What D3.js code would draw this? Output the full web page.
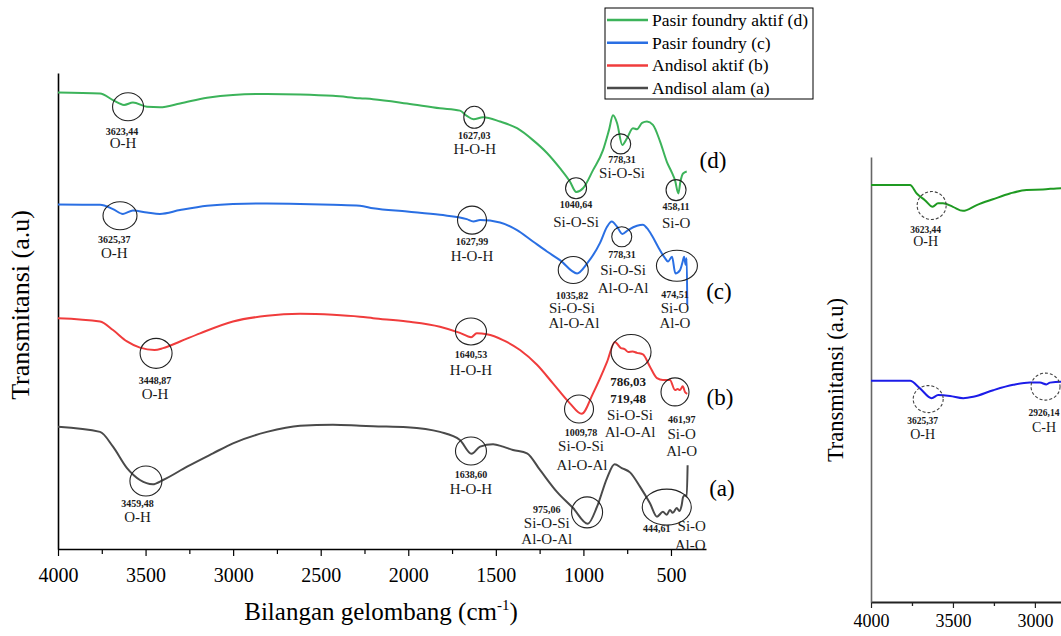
<!DOCTYPE html>
<html><head><meta charset="utf-8">
<script src="https://cdn.jsdelivr.net/npm/d3@7"></script>
<style>
body{margin:0;background:#fff;}
svg{display:block;font-family:"Liberation Serif","Times New Roman",serif;}
</style>
</head><body>
<svg id="c" width="1061" height="636"></svg>
<script>
// ---------------- DATA ----------------
const seriesNames = ["Pasir foundry aktif (d)", "Pasir foundry (c)", "Andisol aktif (b)", "Andisol alam (a)"];
const seriesTags = ["(d)", "(c)", "(b)", "(a)"];
const xTicks = [4000, 3500, 3000, 2500, 2000, 1500, 1000, 500];
const xMinorTicks = [3750, 3250, 2750, 2250, 1750, 1250, 750];
const xLabel = "Bilangan gelombang (cm";
const yLabel = "Transmitansi (a.u)";

// wavenumber (cm-1), transmittance (a.u.)
const spectrumD = [[4000,95.9],[3760,95.7],[3686,94.3],[3623,93.3],[3572,93.8],[3492,92.9],[3418,92.8],[3303,93.6],[3149,94.8],[3001,95.4],[2807,95.6],[2618,95.5],[2430,95.2],[2276,94.7],[2201,94.5],[2007,93.6],[1819,92.6],[1705,92.1],[1666,91.0],[1627,90.3],[1573,90.7],[1476,89.8],[1379,88.4],[1288,85.9],[1208,83.2],[1134,80.0],[1077,77.2],[1041,75.0],[1002,75.8],[945,79.6],[888,83.8],[854,88.0],[831,91.1],[808,89.5],[778,84.9],[751,86.3],[717,88.4],[694,88.2],[665,89.5],[637,89.8],[603,89.1],[563,85.7],[523,81.3],[494,79.0],[477,77.5],[458,74.7],[446,77.2],[431,78.9],[410,79.3]];
const spectrumC = [[4000,72.4],[3760,72.3],[3686,71.4],[3629,70.4],[3572,71.1],[3492,70.7],[3418,70.4],[3303,71.2],[3149,72.1],[3001,72.5],[2807,72.6],[2618,72.5],[2430,72.3],[2276,72.1],[2201,71.6],[2007,70.9],[1819,70.2],[1666,69.3],[1628,68.8],[1590,69.1],[1476,68.6],[1379,67.0],[1288,64.6],[1208,62.5],[1134,60.7],[1036,57.9],[979,60.0],[905,64.3],[865,67.7],[838,68.8],[808,67.7],[778,66.2],[745,67.0],[694,67.9],[660,68.1],[637,67.4],[608,65.8],[574,63.5],[534,61.1],[517,60.4],[494,61.4],[475,57.9],[448,58.6],[433,60.4],[425,61.4],[416,59.7],[410,61.1],[407,51.3]];
const spectrumB = [[4000,48.5],[3760,47.8],[3686,46.0],[3606,43.6],[3532,42.3],[3449,41.8],[3400,42.2],[3303,43.6],[3189,45.3],[3001,47.8],[2807,49.0],[2618,49.4],[2430,49.2],[2276,48.8],[2201,48.5],[2007,47.8],[1819,46.7],[1705,45.4],[1641,44.5],[1609,45.3],[1552,45.1],[1459,43.9],[1362,41.8],[1265,38.7],[1174,34.8],[1077,30.6],[1010,28.4],[945,32.7],[865,39.3],[820,43.5],[786,42.2],[765,42.0],[745,41.4],[719,41.5],[694,41.2],[660,40.9],[620,38.3],[580,35.9],[546,35.5],[506,35.5],[477,33.4],[462,33.6],[448,33.4],[433,34.2],[420,33.0],[407,32.6]];
const spectrumA = [[4000,25.7],[3760,24.6],[3686,21.5],[3606,17.0],[3532,14.5],[3459,13.6],[3400,14.5],[3263,17.3],[3115,20.1],[3001,22.2],[2807,24.6],[2618,25.9],[2430,26.1],[2276,25.9],[2201,25.8],[2007,25.6],[1819,24.6],[1705,22.9],[1639,20.0],[1590,21.5],[1516,22.0],[1459,21.5],[1402,20.8],[1322,20.1],[1248,16.6],[1151,12.0],[1059,8.6],[975,5.3],[922,8.9],[865,14.9],[822,17.8],[781,17.0],[734,16.1],[677,13.1],[620,9.6],[580,6.8],[546,7.8],[524,7.2],[506,8.2],[490,7.6],[467,8.6],[452,8.0],[439,9.2],[431,10.9],[420,11.3],[410,11.0],[405,17.6]];

// peak annotations: ring centre (wavenumber, value), peak numbers, groups
const peaksD = [
  {nums:["3623,44"], groups:["O-H"], wn:3600, val:92.9},
  {nums:["1627,03"], groups:["H-O-H"], wn:1623, val:90.7},
  {nums:["1040,64"], groups:["Si-O-Si"], wn:1042, val:75.8},
  {nums:["778,31"], groups:["Si-O-Si"], wn:787, val:85.1},
  {nums:["458,11"], groups:["Si-O"], wn:471, val:75.4}];
const peaksC = [
  {nums:["3625,37"], groups:["O-H"], wn:3646, val:70.0},
  {nums:["1627,99"], groups:["H-O-H"], wn:1636, val:69.1},
  {nums:["1035,82"], groups:["Si-O-Si","Al-O-Al"], wn:1058, val:58.6},
  {nums:["778,31"], groups:["Si-O-Si","Al-O-Al"], wn:781, val:65.6},
  {nums:["474,51"], groups:["Si-O","Al-O"], wn:466, val:59.5}];
const peaksB = [
  {nums:["3448,87"], groups:["O-H"], wn:3440, val:41.1},
  {nums:["1640,53"], groups:["H-O-H"], wn:1642, val:45.7},
  {nums:["1009,78"], groups:["Si-O-Si","Al-O-Al"], wn:1025, val:29.4},
  {nums:["786,03","719,48"], groups:["Si-O-Si","Al-O-Al"], wn:728, val:41.4, big:true},
  {nums:["461,97"], groups:["Si-O","Al-O"], wn:477, val:33.0}];
const peaksA = [
  {nums:["3459,48"], groups:["O-H"], wn:3498, val:14.3},
  {nums:["1638,60"], groups:["H-O-H"], wn:1642, val:20.6},
  {nums:["975,06"], groups:["Si-O-Si","Al-O-Al"], wn:979, val:7.7},
  {nums:["444,61"], groups:["Si-O","Al-O"], wn:524, val:8.8}];
// series tag positions (wavenumber, value)
const tagPos = [[260,81.7],[226,54.0],[220,31.9],[209,12.8]];

// second (partial) panel
const xTicks2 = [4000, 3500, 3000];
const xMinorTicks2 = [3750, 3250];
const spectrum2D = [[4000,93.7],[3762,93.7],[3721,91.8],[3671,90.3],[3624,88.8],[3591,89.6],[3561,89.6],[3500,88.8],[3439,87.9],[3355,89.2],[3256,90.5],[3152,91.8],[3051,92.6],[2951,92.7],[2841,93.0],[2726,93.0]];
const spectrum2C = [[4000,49.7],[3762,49.7],[3701,48.0],[3630,45.8],[3590,46.5],[3518,46.3],[3437,45.8],[3376,46.1],[3254,47.6],[3132,48.8],[3030,49.3],[2969,49.3],[2930,48.9],[2908,49.3],[2841,49.5],[2726,49.5]];
const peaks2D = [{nums:["3623,44"], groups:["O-H"], wn:3630, val:89.1}];
const peaks2C = [
  {nums:["3625,37"], groups:["O-H"], wn:3651, val:45.6},
  {nums:["2926,14"], groups:["C-H"], wn:2935, val:48.4}];

// ---------------- LAYOUT / STYLE ----------------
const colors = ["#3cb35a", "#2a6fe3", "#f03c3c", "#4a4a4a"];
const colors2 = ["#1f9a22", "#1c1ce8"];
// ring radii and text offsets (px) for each annotation, same order as peaks
const layoutD = [
  {rx:15.5, ry:14, off:[[-6,25],[-5,36.6]]},
  {rx:10.5, ry:11, off:[[0,18.7],[0.5,32]]},
  {rx:10.5, ry:10.5, off:[[0,16.7],[0,34]]},
  {rx:10, ry:10, off:[[1.3,15.3],[1.3,28.7]]},
  {rx:10, ry:10.5, off:[[0,16],[0,32.7]]}];
const layoutC = [
  {rx:17, ry:14, off:[[-5.7,24],[-5.7,37.3]]},
  {rx:14.5, ry:14, off:[[0,21.7],[0,36]]},
  {rx:15, ry:13.5, off:[[-1.3,25],[-1.3,37.5],[0.7,53]]},
  {rx:10, ry:10, off:[[0.3,17.3],[1.3,33.3],[1.3,51.6]]},
  {rx:20.5, ry:15.5, off:[[-2,29],[-2,42.3],[-2,57.3]]}];
const layoutB = [
  {rx:16, ry:15, off:[[-1,26.7],[-1,41]]},
  {rx:15.5, ry:13.5, off:[[0,23.3],[0,38.3]]},
  {rx:14.5, ry:14, off:[[2,23],[2,37],[3,56]]},
  {rx:20, ry:17.5, off:[[-3,29.7],[-3,46.3],[-1,63],[-1,79.7]]},
  {rx:14, ry:14, off:[[6.7,27.3],[6.7,42],[6.7,58.7]]}];
const layoutA = [
  {rx:16, ry:15, off:[[-8.3,22.3],[-8.3,36.3]]},
  {rx:15.5, ry:14, off:[[0,23.3],[0,38.3]]},
  {rx:15.5, ry:15.5, off:[[-40.3,-3.2],[-40.3,10.2],[-40.3,26.8]]},
  {rx:24.5, ry:18, off:[[-10,21.3],[25,19],[23.3,38]]}];
const layout2D = [{rx:14.5, ry:14, off:[[-6,24.3],[-6,36]]}];
const layout2C = [
  {rx:15, ry:13.5, off:[[-5.6,22.4],[-5.6,35.7]]},
  {rx:14.5, ry:13.5, off:[[-1.5,26],[-1.5,40.6]]}];

const FONT = '"Liberation Serif","Times New Roman",serif';
const svg = d3.select("#c");

// ---------------- MAIN PANEL ----------------
const x = d3.scaleLinear().domain([4000, 300]).range([58, 706]);
const y = d3.scaleLinear().domain([0, 100]).range([549, 73]);

function styleAxis(g, color, width) {
  g.attr("font-family", FONT);
  g.select(".domain").attr("stroke", color).attr("stroke-width", width);
  g.selectAll(".tick line").attr("stroke", color).attr("stroke-width", 1.2);
}

const gxMinor = svg.append("g").attr("transform", "translate(0,549)")
  .call(d3.axisBottom(x).tickValues(xMinorTicks).tickSize(5).tickFormat(""));
gxMinor.select(".domain").remove();
gxMinor.selectAll(".tick line").attr("stroke", "#000").attr("stroke-width", 1.2);

const gx = svg.append("g").attr("transform", "translate(0,549)")
  .call(d3.axisBottom(x).tickValues(xTicks).tickSize(7).tickSizeOuter(0).tickFormat(d3.format("d")));
styleAxis(gx, "#000", 1.6);
gx.selectAll(".tick text").attr("font-size", 20).attr("fill", "#000").attr("y", 32.5).attr("dy", 0);

const gy = svg.append("g").attr("transform", "translate(58,0)")
  .call(d3.axisLeft(y).tickValues([]).tickSizeOuter(0));
styleAxis(gy, "#000", 1.6);

svg.append("text").attr("x", 381).attr("y", 620).attr("text-anchor", "middle")
  .attr("font-size", 25).attr("fill", "#000")
  .call(t => {
    t.append("tspan").text(xLabel);
    t.append("tspan").attr("font-size", 15).attr("dy", -10).text("-1");
    t.append("tspan").attr("dy", 10).text(")");
  });
svg.append("text").attr("transform", "translate(20,305) rotate(-90)")
  .attr("text-anchor", "middle").attr("dominant-baseline", "central")
  .attr("font-size", 26).attr("fill", "#000").text(yLabel);

const line = d3.line().curve(d3.curveMonotoneX).x(d => x(d[0])).y(d => y(d[1]));
const spectra = [spectrumD, spectrumC, spectrumB, spectrumA];
spectra.forEach((s, i) => {
  svg.append("path").datum(s).attr("d", line).attr("fill", "none")
    .attr("stroke", colors[i]).attr("stroke-width", 2).attr("stroke-linejoin", "round");
});

function drawPeaks(peaks, layout, xs, ys, opts) {
  peaks.forEach((p, i) => {
    const L = layout[i];
    const cx = xs(p.wn), cy = ys(p.val);
    svg.append("ellipse").attr("cx", cx).attr("cy", cy).attr("rx", L.rx).attr("ry", L.ry)
      .attr("fill", "none").attr("stroke", opts.ring).attr("stroke-width", 1.1)
      .attr("stroke-dasharray", opts.dash || null);
    const lines = p.nums.map(t => ({t, num: true})).concat(p.groups.map(t => ({t, num: false})));
    lines.forEach((ln, j) => {
      const o = L.off[j];
      svg.append("text").attr("x", cx + o[0]).attr("y", cy + o[1])
        .attr("text-anchor", "middle").attr("dominant-baseline", "central")
        .attr("font-size", ln.num ? (p.big ? 13 : opts.numSize) : opts.grpSize)
        .attr("font-weight", ln.num ? "bold" : "normal")
        .attr("fill", "#1a1a1a").text(ln.t);
    });
  });
}
const mainOpts = {ring: "#222", numSize: 10, grpSize: 15};
drawPeaks(peaksD, layoutD, x, y, mainOpts);
drawPeaks(peaksC, layoutC, x, y, mainOpts);
drawPeaks(peaksB, layoutB, x, y, mainOpts);
drawPeaks(peaksA, layoutA, x, y, mainOpts);

seriesTags.forEach((t, i) => {
  svg.append("text").attr("x", x(tagPos[i][0])).attr("y", y(tagPos[i][1]))
    .attr("text-anchor", "middle").attr("dominant-baseline", "central")
    .attr("font-size", 23).attr("fill", "#000").text(t);
});

// legend
const lg = svg.append("g");
lg.append("rect").attr("x", 605).attr("y", 8).attr("width", 208).attr("height", 91)
  .attr("fill", "#fff").attr("stroke", "#000").attr("stroke-width", 1);
seriesNames.forEach((n, i) => {
  const yy = 20 + i * 22.7;
  lg.append("line").attr("x1", 607).attr("x2", 648).attr("y1", yy).attr("y2", yy)
    .attr("stroke", colors[i]).attr("stroke-width", 2.5);
  lg.append("text").attr("x", 652).attr("y", yy + 6).attr("font-size", 17.5)
    .attr("fill", "#000").text(n);
});

// ---------------- SECOND (PARTIAL) PANEL ----------------
const x2 = d3.scaleLinear().domain([4000, 400]).range([871, 1461]);
const y2 = d3.scaleLinear().domain([0, 100]).range([602, 157]);

const gx2m = svg.append("g").attr("transform", "translate(0,602)")
  .call(d3.axisBottom(x2).tickValues(xMinorTicks2).tickSize(4).tickFormat(""));
gx2m.select(".domain").remove();
gx2m.selectAll(".tick line").attr("stroke", "#222").attr("stroke-width", 1.3);
const gx2 = svg.append("g").attr("transform", "translate(0,602)")
  .call(d3.axisBottom(x2).tickValues(xTicks2).tickSize(6).tickSizeOuter(0).tickFormat(d3.format("d")));
styleAxis(gx2, "#222", 2);
gx2.selectAll(".tick text").attr("font-size", 18).attr("fill", "#000").attr("y", 24.5).attr("dy", 0);
const gy2 = svg.append("g").attr("transform", "translate(871,0)")
  .call(d3.axisLeft(y2).tickValues([]).tickSizeOuter(0));
styleAxis(gy2, "#666", 1.6);

svg.append("text").attr("transform", "translate(835,380) rotate(-90)")
  .attr("text-anchor", "middle").attr("dominant-baseline", "central")
  .attr("font-size", 22.5).attr("fill", "#000").text(yLabel);

const line2 = d3.line().curve(d3.curveMonotoneX).x(d => x2(d[0])).y(d => y2(d[1]));
[spectrum2D, spectrum2C].forEach((s, i) => {
  svg.append("path").datum(s).attr("d", line2).attr("fill", "none")
    .attr("stroke", colors2[i]).attr("stroke-width", 2).attr("stroke-linejoin", "round");
});
const sideOpts = {ring: "#444", dash: "3,2", numSize: 9.5, grpSize: 14};
drawPeaks(peaks2D, layout2D, x2, y2, sideOpts);
drawPeaks(peaks2C, layout2C, x2, y2, sideOpts);
</script>
</body></html>
